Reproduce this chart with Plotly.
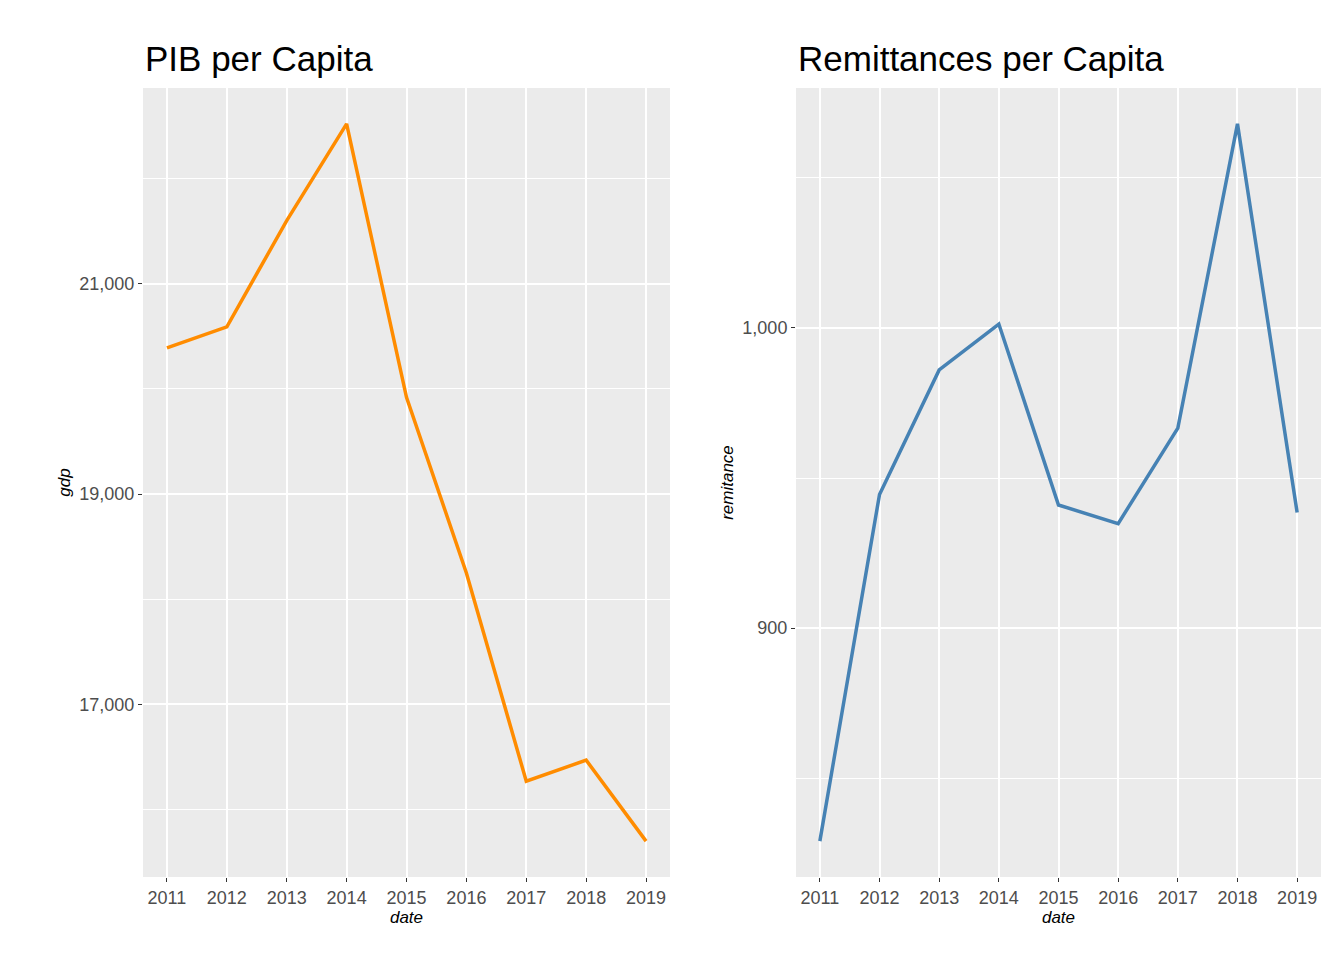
import plotly.graph_objects as go
from plotly.subplots import make_subplots

years = [2011, 2012, 2013, 2014, 2015, 2016, 2017, 2018, 2019]
gdp = [20390, 20590, 21600, 22520, 19920, 18250, 16270, 16470, 15700]
remitance = [829, 944.5, 986, 1001.3, 941, 934.8, 966.6, 1068, 938.5]

FONT = "Liberation Sans, Arial"
fig = make_subplots(rows=1, cols=2)

fig.add_trace(go.Scatter(x=years, y=gdp, mode="lines",
                         line=dict(color="#FF8C00", width=3.5)), row=1, col=1)
fig.add_trace(go.Scatter(x=years, y=remitance, mode="lines",
                         line=dict(color="#4682B4", width=3.5)), row=1, col=2)

grid = dict(showgrid=True, gridcolor="white", gridwidth=1.6, zeroline=False,
            ticks="outside", ticklen=4, tickcolor="#333333", automargin=False,
            tickfont=dict(family=FONT, size=18, color="#4d4d4d"), showline=False)
xspan = (years[-1] - years[0]) * 0.05

fig.update_xaxes(**grid, tickvals=years, range=[years[0] - xspan, years[-1] + xspan],
                 title=dict(text="<i>date</i>", font=dict(family=FONT, size=17, color="black"),
                            standoff=2))
fig.update_yaxes(**grid, title_font=dict(family=FONT, size=17, color="black"))

gspan = (max(gdp) - min(gdp)) * 0.05
fig.update_yaxes(range=[min(gdp) - gspan, max(gdp) + gspan], tick0=17000, dtick=2000,
                 tickformat=",d", title=dict(text="<i>gdp</i>", standoff=4),
                 minor=dict(dtick=1000, tick0=16000, showgrid=True, gridcolor="white", gridwidth=0.8),
                 row=1, col=1)
rspan = (max(remitance) - min(remitance)) * 0.05
fig.update_yaxes(range=[min(remitance) - rspan, max(remitance) + rspan], tick0=900, dtick=100,
                 tickformat=",d", title=dict(text="<i>remitance</i>", standoff=4),
                 minor=dict(dtick=50, tick0=850, showgrid=True, gridcolor="white", gridwidth=0.8),
                 row=1, col=2)

fig.update_layout(
    width=1344, height=960,
    plot_bgcolor="#EBEBEB", paper_bgcolor="white",
    showlegend=False,
    margin=dict(l=0, r=0, t=0, b=0),
    xaxis=dict(domain=[135 / 1344, 662 / 1344]),
    xaxis2=dict(domain=[788 / 1344, 1313 / 1344]),
    yaxis=dict(domain=[1 - 869 / 960, 1 - 80 / 960]),
    yaxis2=dict(domain=[1 - 869 / 960, 1 - 80 / 960]),
    annotations=[
        dict(text="PIB per Capita", x=0, xref="x domain", y=1.01, yref="y domain",
             xanchor="left", yanchor="bottom", showarrow=False,
             font=dict(family=FONT, size=35, color="black")),
        dict(text="Remittances per Capita", x=0, xref="x2 domain", y=1.01, yref="y2 domain",
             xanchor="left", yanchor="bottom", showarrow=False,
             font=dict(family=FONT, size=35, color="black")),
    ],
)

fig.write_html("out.html")
